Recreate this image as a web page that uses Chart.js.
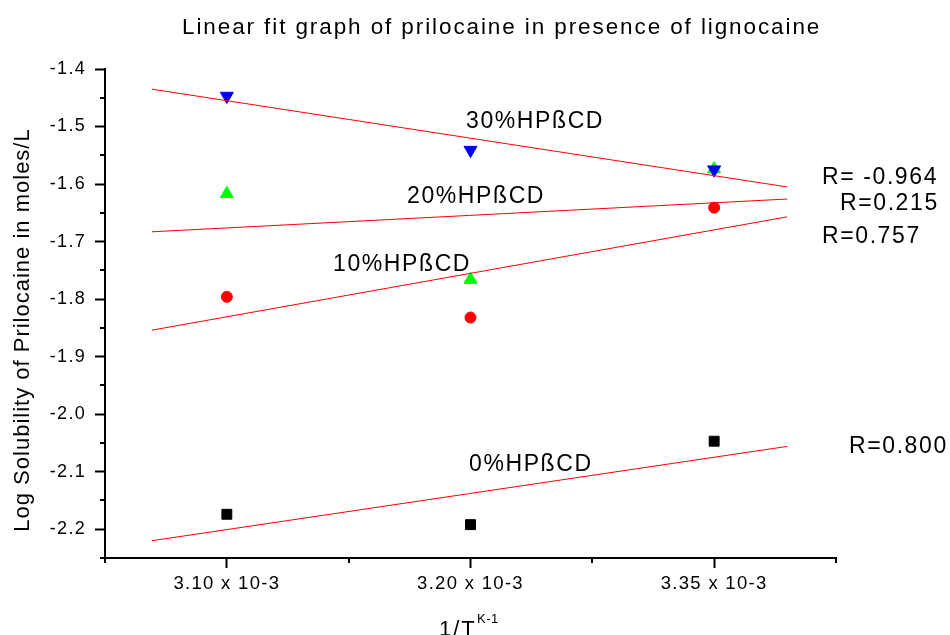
<!DOCTYPE html>
<html>
<head>
<meta charset="utf-8">
<script src="https://cdn.jsdelivr.net/npm/chart.js@4"></script>
<style>
  body { margin: 0; background: #fff; }
  canvas { display: block; }
</style>
</head>
<body>
<canvas id="fitChart" width="950" height="635"></canvas>
<script>
// data
var xLabels = ['3.10 x 10-3', '3.20 x 10-3', '3.35 x 10-3'];
var xPos = [1, 2, 3];
var s30 = [-1.447, -1.541, -1.575];
var s20 = [-1.617, -1.766, -1.574];
var s10 = [-1.796, -1.832, -1.641];
var s0 = [-2.174, -2.192, -2.047];
// fitted lines, end points
var fitX = [0.692, 3.30];
var fit30 = [-1.435, -1.605];
var fit20 = [-1.683, -1.626];
var fit10 = [-1.854, -1.657];
var fit0 = [-2.220, -2.056];
var seriesNames = ['30%HPßCD', '20%HPßCD', '10%HPßCD', '0%HPßCD'];
var rValues = ['R= -0.964', 'R=0.215', 'R=0.757', 'R=0.800'];
var yTicks = [-2.2, -2.1, -2.0, -1.9, -1.8, -1.7, -1.6, -1.5, -1.4];
var yMinor = [-2.25, -2.15, -2.05, -1.95, -1.85, -1.75, -1.65, -1.55, -1.45];
var xMinor = [0.5, 1.5, 2.5, 3.5];

var FONT = '"Liberation Sans", Arial, sans-serif';

function pts(xs, ys) {
       return xs.map(function (x, i) { return { x: x, y: ys[i] }; });
}

function fitLine(ys) {
       return {
              type: 'line',
              data: pts(fitX, ys),
              showLine: true,
              borderColor: '#ff0000',
              borderWidth: 1,
              pointRadius: 0,
              fill: false
       };
}

function markers(ys, style, color, radius, rotation) {
       return {
              data: pts(xPos, ys),
              pointStyle: style,
              pointRadius: radius,
              pointRotation: rotation || 0,
              pointBackgroundColor: color,
              pointBorderColor: color,
              pointBorderWidth: 1,
              showLine: false
       };
}

// letter spacing for the tick labels (the original text is set wide)
var spacing = {
       id: 'spacing',
       beforeUpdate: function (chart) { chart.ctx.letterSpacing = '1.3px'; },
       beforeDraw: function (chart) { chart.ctx.letterSpacing = '1.3px'; }
};

// minor ticks, title, axis titles and in-plot labels
var extras = {
       id: 'extras',
       afterDraw: function (chart) {
              var ctx = chart.ctx;
              var xs = chart.scales.x, ys = chart.scales.y;
              var area = chart.chartArea;
              ctx.save();
              ctx.strokeStyle = '#000';
              ctx.lineWidth = 2;
              ctx.beginPath();
              xMinor.forEach(function (v) {
                     var px = Math.round(xs.getPixelForValue(v));
                     ctx.moveTo(px, area.bottom);
                     ctx.lineTo(px, area.bottom + 5);
              });
              yMinor.forEach(function (v) {
                     var py = Math.round(ys.getPixelForValue(v));
                     ctx.moveTo(area.left, py);
                     ctx.lineTo(area.left - 5, py);
              });
              ctx.stroke();

              ctx.fillStyle = '#000';
              ctx.textBaseline = 'alphabetic';
              ctx.textAlign = 'left';

              // title
              ctx.font = '22.5px ' + FONT;
              ctx.letterSpacing = '1.9px';
              ctx.fillText('Linear fit graph of prilocaine in presence of lignocaine', 182, 34);

              // x title with superscript
              ctx.font = '22px ' + FONT;
              ctx.letterSpacing = '2px';
              ctx.fillText('1/T', 439, 636);
              ctx.font = '13px ' + FONT;
              ctx.letterSpacing = '0.5px';
              ctx.fillText('K-1', 477, 623);

              // in-plot labels
              ctx.font = '23px ' + FONT;
              ctx.letterSpacing = '1.6px';
              var namePos = [[466, 128], [407, 203], [333, 271], [469, 471]];
              seriesNames.forEach(function (t, i) { ctx.fillText(t, namePos[i][0], namePos[i][1]); });
              var rPos = [[822, 184], [840, 210], [822, 243], [849, 453]];
              rValues.forEach(function (t, i) { ctx.fillText(t, rPos[i][0], rPos[i][1]); });

              // y title
              ctx.font = '22px ' + FONT;
              ctx.letterSpacing = '1px';
              ctx.translate(29, 330);
              ctx.rotate(-Math.PI / 2);
              ctx.textAlign = 'center';
              ctx.fillText('Log Solubility of Prilocaine in moles/L', 0, 0);
              ctx.restore();
       }
};

var chart = new Chart(document.getElementById('fitChart'), {
       type: 'scatter',
       data: {
              datasets: [
                     fitLine(fit30),
                     fitLine(fit20),
                     fitLine(fit10),
                     fitLine(fit0),
                     markers(s30, 'triangle', '#0000ff', 7.5, 180),
                     markers(s20, 'triangle', '#00ff00', 7.5, 0),
                     markers(s10, 'circle', '#ff0000', 5.5, 0),
                     markers(s0, 'rect', '#000000', 7, 0)
              ]
       },
       options: {
              responsive: false,
              animation: false,
              layout: { padding: { top: 69, right: 114, left: 0, bottom: 0 } },
              plugins: {
                     legend: { display: false },
                     tooltip: { enabled: false },
                     title: { display: false }
              },
              scales: {
                     x: {
                            type: 'linear',
                            min: 0.5,
                            max: 3.5,
                            afterBuildTicks: function (scale) {
                                   scale.ticks = xPos.map(function (v) { return { value: v }; });
                            },
                            afterFit: function (scale) { scale.height = 77; },
                            border: { color: '#000', width: 2 },
                            grid: { drawOnChartArea: false, tickLength: 10, tickColor: '#000', tickWidth: 2 },
                            ticks: {
                                   autoSkip: false,
                                   maxRotation: 0,
                                   padding: 5,
                                   color: '#000',
                                   font: { family: FONT, size: 18.5 },
                                   callback: function (v, i) { return xLabels[i]; }
                            }
                     },
                     y: {
                            min: -2.25,
                            max: -1.4,
                            afterBuildTicks: function (scale) {
                                   scale.ticks = yTicks.map(function (v) { return { value: v }; });
                            },
                            afterFit: function (scale) { scale.width = 105; },
                            border: { color: '#000', width: 2 },
                            grid: { drawOnChartArea: false, tickLength: 10, tickColor: '#000', tickWidth: 2 },
                            ticks: {
                                   autoSkip: false,
                                   padding: 9,
                                   color: '#000',
                                   font: { family: FONT, size: 18 },
                                   callback: function (v) { return v.toFixed(1); }
                            }
                     }
              }
       },
       plugins: [spacing, extras]
});
</script>
</body>
</html>
